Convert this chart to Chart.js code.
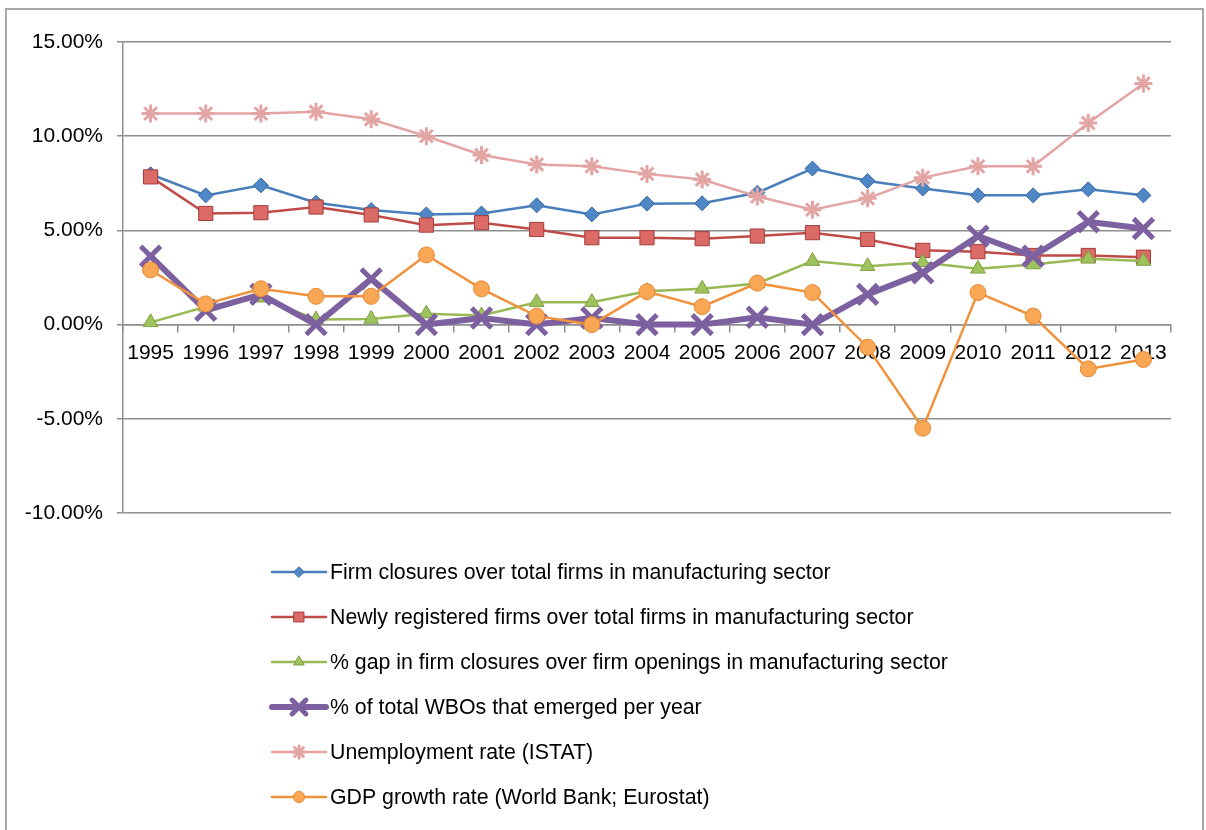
<!DOCTYPE html>
<html>
<head>
<meta charset="utf-8">
<script src="https://cdn.jsdelivr.net/npm/chart.js@4/dist/chart.umd.min.js"></script>
<style>
    html, body { margin: 0; padding: 0; background: #fff; overflow: hidden; }
    .frame { position: absolute; left: 5px; top: 8px; width: 1199px; height: 900px; border: 2px solid #a8a8a8; box-sizing: border-box; }
    canvas { position: absolute; left: 0; top: 0; }
</style>
</head>
<body>
<div class="frame"></div>
<canvas id="chart" width="1206" height="830"></canvas>
<script>
const years = ['1995', '1996', '1997', '1998', '1999', '2000', '2001', '2002', '2003', '2004',
    '2005', '2006', '2007', '2008', '2009', '2010', '2011', '2012', '2013'];

// values in percent
const firmClosures = [7.98, 6.86, 7.39, 6.47, 6.08, 5.85, 5.9, 6.33, 5.85, 6.42, 6.44, 7.0, 8.28, 7.62, 7.22, 6.86, 6.86, 7.18, 6.86];
const newFirms = [7.84, 5.9, 5.94, 6.24, 5.82, 5.28, 5.41, 5.05, 4.61, 4.61, 4.56, 4.7, 4.88, 4.52, 3.94, 3.87, 3.67, 3.67, 3.58];
const closureGap = [0.12, 0.95, 1.43, 0.27, 0.3, 0.58, 0.48, 1.19, 1.19, 1.77, 1.9, 2.18, 3.37, 3.1, 3.3, 2.96, 3.19, 3.49, 3.37];
const wboShare = [3.63, 0.76, 1.6, 0.0, 2.43, 0.0, 0.35, 0.0, 0.35, 0.0, 0.0, 0.39, 0.0, 1.6, 2.75, 4.7, 3.63, 5.46, 5.1];
const unemployment = [11.2, 11.2, 11.2, 11.3, 10.9, 10.0, 9.0, 8.5, 8.4, 8.0, 7.7, 6.8, 6.1, 6.7, 7.8, 8.4, 8.4, 10.7, 12.8];
const gdpGrowth = [2.9, 1.1, 1.9, 1.5, 1.5, 3.7, 1.9, 0.45, 0.0, 1.75, 0.95, 2.2, 1.7, -1.2, -5.5, 1.7, 0.45, -2.35, -1.85];

const seriesLabels = [
    'Firm closures over total firms in manufacturing sector',
    'Newly registered firms over total firms in manufacturing sector',
    '% gap in firm closures over firm openings in manufacturing sector',
    '% of total WBOs that emerged per year',
    'Unemployment rate (ISTAT)',
    'GDP growth rate (World Bank; Eurostat)',
];

const FONT = "'Liberation Sans', Arial, Helvetica, sans-serif";
const GRID = '#8e8e8e';

const series = (i, data, opts) => Object.assign({
    label: seriesLabels[i],
    data,
    order: 10 - i, // later series drawn on top, like Excel
    fill: false,
    tension: 0,
    borderWidth: 2.5,
    pointBorderWidth: 1,
}, opts);

const datasets = [
    series(0, firmClosures, { borderColor: '#4a7ebb', pointStyle: 'rectRot', pointRadius: 7.5, pointBackgroundColor: '#4f86c6', pointBorderColor: '#3b6aa3' }),
    series(1, newFirms, { borderColor: '#be4b48', pointStyle: 'rect', pointRadius: 10, pointBackgroundColor: '#dc6a67', pointBorderColor: '#a33d3a' }),
    series(2, closureGap, { borderColor: '#98b954', pointStyle: 'triangle', pointRadius: 8.5, pointBackgroundColor: '#9fc35c', pointBorderColor: '#7f9e43' }),
    series(3, wboShare, { borderColor: '#7d60a0', borderWidth: 6, pointStyle: 'crossRot', pointRadius: 14, pointBorderWidth: 5, pointBackgroundColor: '#7d60a0', pointBorderColor: '#7d60a0' }),
    series(4, unemployment, { borderColor: '#e3a5a4', pointStyle: 'star', pointRadius: 9, pointBorderWidth: 3, pointBackgroundColor: '#e3a5a4', pointBorderColor: '#e3a5a4' }),
    series(5, gdpGrowth, { borderColor: '#f0913c', pointStyle: 'circle', pointRadius: 8, pointBackgroundColor: '#f9a655', pointBorderColor: '#e38a35' }),
];

// vertical legend under the plot, Excel style
const legendList = {
    id: 'legendList',
    afterDraw(chart) {
        const ctx = chart.ctx;
        const x0 = 272, x1 = 326, top = 572, step = 45;
        chart.data.datasets.forEach((ds, i) => {
            const y = top + i * step;
            ctx.save();
            ctx.strokeStyle = ds.borderColor;
            ctx.lineWidth = ds.borderWidth;
            ctx.lineCap = 'round';
            ctx.beginPath(); ctx.moveTo(x0, y); ctx.lineTo(x1, y); ctx.stroke();
            ctx.fillStyle = ds.pointBackgroundColor;
            ctx.strokeStyle = ds.pointBorderColor;
            ctx.lineWidth = ds.pointBorderWidth;
            Chart.helpers.drawPoint(ctx, { pointStyle: ds.pointStyle, rotation: 0, radius: ds.pointRadius * 0.7, borderWidth: ds.pointBorderWidth }, (x0 + x1) / 2, y);
            ctx.fillStyle = '#000';
            ctx.font = '21.3px ' + FONT;
            ctx.textBaseline = 'middle';
            ctx.textAlign = 'left';
            ctx.fillText(ds.label, x1 + 4, y + 1);
            ctx.restore();
        });
    }
};

new Chart(document.getElementById('chart'), {
    type: 'line',
    data: { labels: years, datasets },
    options: {
        responsive: false,
        animation: false,
        layout: { padding: { left: 0, right: 35, top: 42, bottom: 317 } },
        plugins: { legend: { display: false }, tooltip: { enabled: false } },
        scales: {
            x: {
                position: { y: 0 },
                offset: true,
                grid: { offset: true, drawOnChartArea: false, drawTicks: true, tickLength: 7, color: GRID, lineWidth: 1.5 },
                border: { color: GRID, width: 1.5 },
                ticks: { color: '#000', font: { family: FONT, size: 21 }, padding: 9, maxRotation: 0, autoSkip: false },
            },
            y: {
                min: -10,
                max: 15,
                grid: { color: GRID, lineWidth: 1.5, tickLength: 6 },
                border: { color: GRID, width: 1.5 },
                ticks: { stepSize: 5, color: '#000', font: { family: FONT, size: 21 }, padding: 14, callback: v => v.toFixed(2) + '%' },
                afterFit(scale) { scale.width = 123; },
            },
        },
    },
    plugins: [legendList],
});
</script>
</body>
</html>
